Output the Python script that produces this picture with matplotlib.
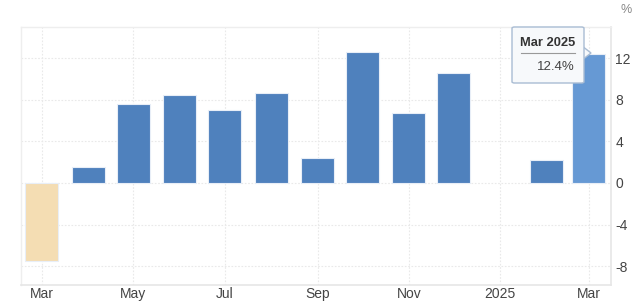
import datetime as dt
import matplotlib
matplotlib.use("Agg")
import matplotlib.pyplot as plt
from matplotlib.patches import FancyBboxPatch, Polygon

# data (monthly change, %)
months = ["2024-03", "2024-04", "2024-05", "2024-06", "2024-07", "2024-08", "2024-09",
          "2024-10", "2024-11", "2024-12", "2025-02", "2025-03"]
values = [-7.5, 1.5, 7.6, 8.5, 7.0, 8.7, 2.4, 12.6, 6.7, 10.6, 2.2, 12.4]
tick_months = ["2024-03", "2024-05", "2024-07", "2024-09", "2024-11", "2025-01", "2025-03"]
tick_labels = ["Mar", "May", "Jul", "Sep", "Nov", "2025", "Mar"]
y_ticks = [-8, -4, 0, 4, 8, 12]

def to_date(s):
    y, m = s.split("-")
    return dt.date(int(y), int(m), 1)

dates = [to_date(m) for m in months]
tick_dates = [to_date(m) for m in tick_months]

plt.rcParams["font.family"] = ["Liberation Sans", "DejaVu Sans"]
plt.rcParams["axes.unicode_minus"] = False

fig = plt.figure(figsize=(6.4, 3.01), dpi=100)
ax = fig.add_axes([0.0328, 0.052, 0.922, 0.858])

colors = []
for i, v in enumerate(values):
    if i == len(values) - 1:
        colors.append("#6699d4")
    elif v < 0:
        colors.append("#f4ddb3")
    else:
        colors.append("#4f81bd")

ax.bar(dates, values, width=22, color=colors, edgecolor="#e8eef7", linewidth=0.8, zorder=3)

ax.set_xlim(dt.date(2024, 2, 16), dt.date(2025, 3, 16))
ax.set_ylim(-9.85, 15.0)

ax.set_xticks(tick_dates)
ax.set_xticklabels(tick_labels)
ax.set_yticks(y_ticks)
ax.yaxis.tick_right()
ax.tick_params(axis="both", length=0, labelsize=10, colors="#444444")
ax.tick_params(axis="x", pad=1.5)
ax.tick_params(axis="y", pad=3)

ax.grid(True, color="#e9e9e9", linestyle=(0, (1.5, 1.5)), linewidth=0.8, zorder=0)
for s in ["left", "top"]:
    ax.spines[s].set_color("#eeeeee")
    ax.spines[s].set_linewidth(1.0)
for s in ["right", "bottom"]:
    ax.spines[s].set_color("#e6e6e6")
    ax.spines[s].set_linewidth(1.2)

fig.text(0.979, 0.968, "%", ha="center", va="center", fontsize=9, color="#888888")

# tooltip for the last bar
fx0, fx1 = 512 / 640, 584 / 640
fy0, fy1 = 1 - 83 / 301, 1 - 27 / 301
box = FancyBboxPatch((fx0, fy0), fx1 - fx0, fy1 - fy0,
                     boxstyle="round,pad=0,rounding_size=0.004",
                     transform=fig.transFigure, facecolor="#f7f9fb",
                     edgecolor="#a9bcd3", linewidth=1.0, zorder=10)
fig.add_artist(box)
arrow = Polygon([(fx1 - 0.001, 1 - 47 / 301), (fx1 + 7 / 640, 1 - 53 / 301),
                 (fx1 - 0.001, 1 - 59 / 301)], closed=True,
                transform=fig.transFigure, facecolor="#f7f9fb",
                edgecolor="#a9bcd3", linewidth=1.0, zorder=9)
fig.add_artist(arrow)
fig.text(548 / 640, 1 - 43 / 301, "Mar 2025", ha="center", va="center",
         fontsize=9.3, fontweight="bold", color="#333333", zorder=11)
fig.add_artist(plt.Line2D([521 / 640, 575 / 640], [1 - 53 / 301, 1 - 53 / 301],
                          transform=fig.transFigure, color="#999999", linewidth=0.8, zorder=11))
fig.text(575 / 640, 1 - 67 / 301, "12.4%", ha="right", va="center",
         fontsize=9.5, color="#444444", zorder=11)

fig.savefig("out.png", dpi=100)
